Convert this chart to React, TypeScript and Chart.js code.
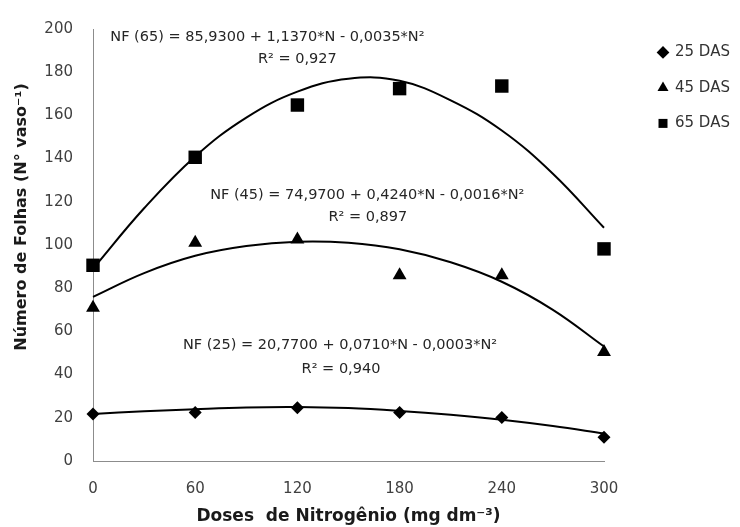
import { useEffect, useRef } from 'react';
import { Chart, registerables } from 'chart.js';

Chart.register(...registerables);

// Observed means
const doses = [0, 60, 120, 180, 240, 300];
const das25 = [21.8, 22.4, 24.7, 22.4, 20.1, 11];
const das45 = [71, 101, 102.5, 86, 86, 50.5];
const das65 = [90.6, 140.6, 164.8, 172.4, 173.6, 98.2];

// Fitted curves
const curveDoses = [0, 30, 60, 90, 120, 150, 180, 210, 240, 270, 300];
const fit25 = [21.8, 23, 24, 24.8, 25, 24.5, 23.2, 21.4, 19.1, 16.2, 12.7];
const fit45 = [76, 87, 95, 99.5, 101.5, 101, 98, 92, 83, 70, 53];
const fit65 = [89, 117, 141, 159, 171, 177, 176, 167, 153, 133, 108];

const xTicks = [0, 60, 120, 180, 240, 300];
const seriesLabels = ['25 DAS', '45 DAS', '65 DAS'];
const equations = [
  'NF (65) = 85,9300 + 1,1370*N - 0,0035*N²',
  'R² = 0,927',
  'NF (45) = 74,9700 + 0,4240*N - 0,0016*N²',
  'R² = 0,897',
  'NF (25) = 20,7700 + 0,0710*N - 0,0003*N²',
  'R² = 0,940',
];
const yTitle = 'Número de Folhas (N° vaso⁻¹)';
const xTitle = 'Doses  de Nitrogênio (mg dm⁻³)';

const pts = (xs: number[], ys: number[]) => xs.map((x, i) => ({ x, y: ys[i] }));

export default function App() {
  const ref = useRef<HTMLCanvasElement | null>(null);

  useEffect(() => {
    document.body.style.margin = '0';
    if (!ref.current) return;

    const annotationPlugin = {
      id: 'equations',
      afterDraw(chart: any) {
        const { ctx, scales } = chart;
        const xs = scales.x;
        const ys = scales.y;
        const anchors = [
          [102.4, 196],
          [120, 186],
          [161, 123],
          [161.4, 112.7],
          [145, 53.6],
          [145.6, 42.3],
        ];
        ctx.save();
        ctx.fillStyle = '#262626';
        ctx.font = '14.5px "DejaVu Sans"';
        ctx.textAlign = 'center';
        ctx.textBaseline = 'middle';
        equations.forEach((t, i) => {
          ctx.fillText(t, xs.getPixelForValue(anchors[i][0]), ys.getPixelForValue(anchors[i][1]));
        });
        // y axis title
        ctx.translate(22, 217);
        ctx.rotate(-Math.PI / 2);
        ctx.font = 'bold 16px "DejaVu Sans"';
        ctx.fillStyle = '#1a1a1a';
        ctx.fillText(yTitle, 0, 0);
        ctx.restore();
      },
    };

    const markerStyles = ['rectRot', 'triangle', 'rect'];
    const markerRadius = [6.5, 8, 9.5];
    const markerData = [das25, das45, das65];
    const fits = [fit25, fit45, fit65];

    const chart = new Chart(ref.current, {
      type: 'scatter',
      data: {
        datasets: [
          ...markerData.map((d, i) => ({
            label: seriesLabels[i],
            data: pts(doses, d),
            pointStyle: markerStyles[i],
            pointRadius: markerRadius[i],
            pointHoverRadius: markerRadius[i],
            backgroundColor: '#000',
            borderColor: '#000',
            borderWidth: 0,
            showLine: false,
            clip: false,
          })),
          ...fits.map((d, i) => ({
            label: 'fit ' + seriesLabels[i],
            data: pts(curveDoses, d),
            showLine: true,
            pointRadius: 0,
            pointHoverRadius: 0,
            borderColor: '#000',
            backgroundColor: '#000',
            borderWidth: 2,
            tension: 0.4,
            clip: false,
          })),
        ],
      } as any,
      options: {
        animation: false,
        responsive: true,
        maintainAspectRatio: false,
        layout: { padding: { left: 0, top: 20, right: 6, bottom: 0 } },
        plugins: {
          tooltip: { enabled: false },
          legend: {
            position: 'right',
            align: 'start',
            maxWidth: 96,
            title: { display: true, text: '', font: { size: 2 }, padding: 1 },
            labels: {
              usePointStyle: true,
              boxWidth: 9,
              boxHeight: 9,
              padding: 20.5,
              color: '#333',
              font: { family: 'DejaVu Sans', size: 15 },
              filter: (item: any) => item.datasetIndex < 3,
            },
          },
        },
        scales: {
          x: {
            type: 'linear',
            min: 0,
            max: 300,
            afterBuildTicks: (s: any) => {
              s.ticks = xTicks.map((v) => ({ value: v }));
            },
            afterFit: (s: any) => {
              s.height = 66;
            },
            grid: { display: false, drawTicks: false },
            border: { display: true, color: '#8c8c8c', width: 1 },
            ticks: {
              color: '#404040',
              padding: 19,
              font: { family: 'DejaVu Sans', size: 15 },
            },
            title: {
              display: true,
              text: xTitle,
              color: '#1a1a1a',
              padding: { top: 0, bottom: 0 },
              font: { family: 'DejaVu Sans', size: 17, weight: 'bold' },
            },
          },
          y: {
            type: 'linear',
            min: 0,
            max: 200,
            afterFit: (s: any) => {
              s.width = 93;
            },
            grid: { display: false, drawTicks: false },
            border: { display: true, color: '#8c8c8c', width: 1 },
            ticks: {
              stepSize: 20,
              color: '#404040',
              padding: 20,
              font: { family: 'DejaVu Sans', size: 15 },
            },
          },
          y2: {
            type: 'linear',
            position: 'right',
            display: true,
            grid: { display: false, drawTicks: false },
            border: { display: false },
            ticks: { display: false },
            afterFit: (s: any) => {
              s.width = 34;
            },
          },
        },
      } as any,
      plugins: [annotationPlugin],
    });

    return () => chart.destroy();
  }, []);

  return (
    <div style={{ width: 740, height: 527, position: 'relative', background: '#fff' }}>
      <canvas ref={ref} />
    </div>
  );
}
